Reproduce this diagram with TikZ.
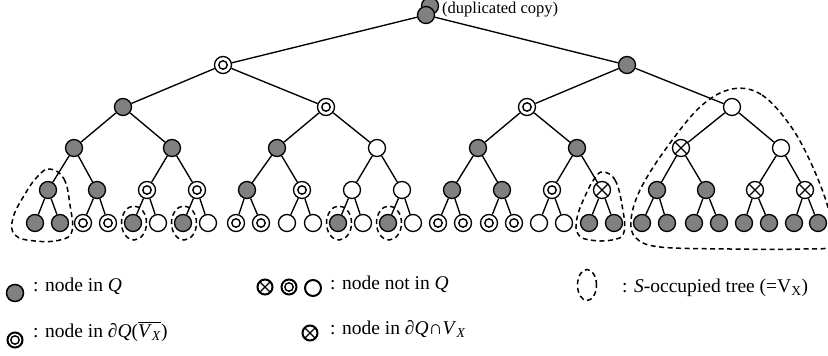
\documentclass[tikz,border=0pt]{standalone}
\usepackage{fontspec}
\setmainfont{Liberation Serif}
\definecolor{qgray}{RGB}{128,128,128}
\newcommand\ovlbar[1]{\leavevmode\vbox{\hrule height 1.1pt\kern1.2pt\hbox{#1}}}
\begin{document}
\begin{tikzpicture}[x=1pt,y=-1pt,
  base/.style={circle,draw,line width=1.3pt,minimum size=17pt,inner sep=0pt},
  gnode/.style={base,fill=qgray},
  wnode/.style={base,fill=white},
  dnode/.style={base,fill=white,path picture={\draw[line width=1.4pt] (path picture bounding box.center) circle (4.2pt);}},
  xnode/.style={base,fill=white,path picture={
     \draw[line width=1.3pt] (path picture bounding box.south west) -- (path picture bounding box.north east)
       (path picture bounding box.north west) -- (path picture bounding box.south east);}},
  edge/.style={line width=1.35pt},
  dsh/.style={line width=1.5pt,dash pattern=on 5pt off 3.5pt},
  lbl/.style={anchor=base west,inner sep=0pt,font=\fontsize{19.5}{22}\selectfont},
  lgsym/.style={line width=2pt,minimum size=15pt}
]
\useasboundingbox (0,0) rectangle (828,356);
% root and duplicated copy
\node[gnode] (dup) at (430,6) {};
\node[gnode] (n1) at (426,15) {};
\node[anchor=base west,inner sep=0pt,font=\fontsize{16.5}{18}\selectfont] (duplbl) at (442,13.5) {(duplicated copy)};
% level 1
\foreach \i/\x/\t in {2/223/dnode,3/627/gnode} \node[\t] (n\i) at (\x,65) {};
% level 2
\foreach \i/\x/\t in {4/123/gnode,5/326/dnode,6/527/dnode,7/732/wnode} \node[\t] (n\i) at (\x,107) {};
% level 3
\foreach \i/\x/\t in {8/74/gnode,9/172/gnode,10/277/gnode,11/377/wnode,12/478/gnode,13/577/gnode,14/681/xnode,15/781/wnode} \node[\t] (n\i) at (\x,148) {};
% level 4
\foreach \i/\x/\t in {16/48/gnode,17/97/gnode,18/147/dnode,19/197/dnode,20/247/gnode,21/302/dnode,22/352/wnode,23/402/wnode,
  24/452/gnode,25/502/gnode,26/552/dnode,27/602/xnode,28/657/gnode,29/706/gnode,30/755/xnode,31/805/xnode} \node[\t] (n\i) at (\x,190) {};
% leaves
\foreach \i/\x/\t in {32/35/gnode,33/60/gnode,34/83/dnode,35/108/dnode,36/133/gnode,37/158/wnode,38/183/gnode,39/208/wnode,
  40/236/dnode,41/261/dnode,42/287/wnode,43/313/wnode,44/338/gnode,45/363/wnode,46/388/gnode,47/413/wnode,
  48/438/dnode,49/463/dnode,50/489/dnode,51/514/dnode,52/539/wnode,53/564/wnode,54/589/gnode,55/614/gnode,
  56/642/gnode,57/667/gnode,58/694/gnode,59/719/gnode,60/744/gnode,61/769/gnode,62/794/gnode,63/818/gnode} \node[\t] (n\i) at (\x,223) {};
% edges
\foreach \i in {2,...,63}{\pgfmathtruncatemacro{\p}{floor(\i/2)}\draw[edge] (n\p) -- (n\i);}
% S-occupied trees
\draw[dsh] plot[smooth cycle,tension=0.7] coordinates {(50,169) (64,179) (70,205) (72,231) (60,240) (35,241) (15,235) (13,218) (25,194) (38,176)};
\draw[dsh] (134,223) ellipse [x radius=12.5pt,y radius=17pt];
\draw[dsh] (184,223) ellipse [x radius=12.5pt,y radius=17pt];
\draw[dsh] (339,223) ellipse [x radius=12.5pt,y radius=17pt];
\draw[dsh] (389,223) ellipse [x radius=12.5pt,y radius=17pt];
\draw[dsh] plot[smooth cycle,tension=0.7] coordinates {(603,172) (615,180) (622,205) (624,232) (612,240) (590,240) (578,234) (577,218) (586,194) (595,178)};
\draw[dsh] plot[smooth cycle,tension=0.6] coordinates {(732,89) (762,95) (792,128) (815,172) (830,215) (832,245) (800,249) (730,249) (660,247) (636,238) (631,220) (640,190) (665,150) (700,107)};
% legend
\node[gnode,minimum size=17pt,line width=1.5pt] (lg1) at (15,293) {};
\node[lbl] (lt1) at (33,291) {: node in \textit{Q}};
\node[xnode,lgsym] (lg2a) at (265,287) {};
\node[dnode,lgsym] (lg2b) at (289,287) {};
\node[wnode,lgsym,minimum size=16pt] (lg2c) at (313,288) {};
\node[lbl] (lt2) at (330,289) {: node not in \textit{Q}};
\draw[dsh] (587,285) ellipse [x radius=9.5pt,y radius=15.5pt];
\node[lbl] (lt3) at (622,292) {: \textit{S}-occupied tree (=V\textsubscript{X})};
\node[dnode,lgsym] (lg4) at (15,340) {};
\node[lbl] (lt4) at (33,337) {: node in \textit{∂Q}(\ovlbar{\textit{V}\textsubscript{\textit{X}}})};
\node[xnode,lgsym] (lg5) at (310,333) {};
\node[lbl] (lt5) at (330,334) {: node in \textit{∂Q}∩\textit{V}\textsubscript{\textit{X}}};
\end{tikzpicture}
\end{document}
